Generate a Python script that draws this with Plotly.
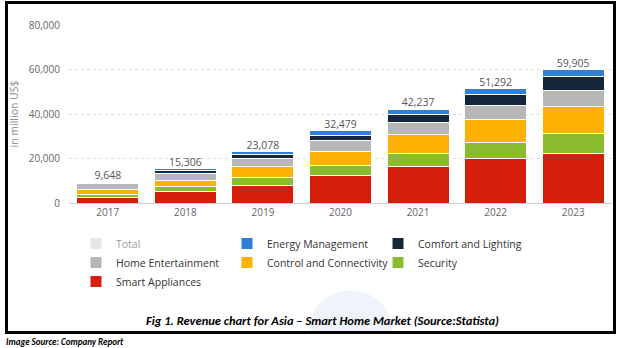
import plotly.graph_objects as go

years = ["2017", "2018", "2019", "2020", "2021", "2022", "2023"]
totals = [9648, 15306, 23078, 32479, 42237, 51292, 59905]

smart_appliances = [2600, 5000, 7900, 12300, 16600, 20000, 22300]
security = [1300, 2300, 3400, 4600, 5500, 7000, 8800]
control_connectivity = [2200, 3000, 5000, 6400, 8700, 10500, 12200]
home_entertainment = [2700, 3000, 3600, 4800, 5200, 6100, 7400]
comfort_lighting = [500, 1100, 1700, 2400, 4000, 5200, 6300]
energy_management = [348, 906, 1478, 1979, 2237, 2492, 2905]

y_ticks = [0, 20000, 40000, 60000, 80000]

W, H = 622, 348
L, R, T, B = 69, 10, 25, 145
PW, PH = W - L - R, H - T - B


def xp(px):
    return (px - L) / PW


def yp(py):
    return (H - B - py) / PH


series = [
    ("Smart Appliances", smart_appliances, "#d51e09", 7),
    ("Security", security, "#8bbb2e", 6),
    ("Control and Connectivity", control_connectivity, "#fdb100", 5),
    ("Home Entertainment", home_entertainment, "#b7b7b7", 4),
    ("Comfort and Lighting", comfort_lighting, "#15263b", 3),
    ("Energy Management", energy_management, "#2f7fd9", 2),
]

fig = go.Figure()
for name, vals, color, rank in series:
    fig.add_trace(go.Bar(
        x=years, y=vals, name=name, legendrank=rank,
        marker=dict(color=color, line=dict(color="white", width=1)),
    ))

fig.add_trace(go.Bar(
    x=years, y=totals, name="Total", legendrank=1, visible="legendonly",
    marker=dict(color="#cccccc", line=dict(color="white", width=1)),
))

fig.add_trace(go.Scatter(
    x=years, y=totals, mode="text",
    text=[f"{v:,}" for v in totals], textposition="top center",
    textfont=dict(family="Open Sans", size=10.5, color="#555555"),
    showlegend=False, cliponaxis=False, hoverinfo="skip",
))

fig.update_layout(
    width=W, height=H,
    margin=dict(l=L, r=R, t=T, b=B, autoexpand=False),
    paper_bgcolor="white", plot_bgcolor="white",
    barmode="stack", bargap=0.2,
    font=dict(family="Open Sans", size=10, color="#666666"),
    xaxis=dict(
        showgrid=False, showline=True, linecolor="#cccccc", linewidth=1,
        ticks="", tickfont=dict(size=10, color="#666666"),
    ),
    yaxis=dict(
        range=[0, 80000], tickvals=y_ticks, tickformat=",",
        showgrid=True, gridcolor="#dddddd", griddash="dot", gridwidth=1,
        zeroline=False, ticks="", ticklabelstandoff=8,
        tickfont=dict(size=10, color="#666666"),
        title=dict(text="in million US$", font=dict(size=10.5, color="#888888"), standoff=8),
    ),
    legend=dict(
        orientation="h", x=xp(76), xanchor="left", y=yp(229), yanchor="top",
        entrywidth=106, entrywidthmode="pixels", traceorder="normal",
        font=dict(family="Open Sans", size=10.5, color="#333333"),
        itemwidth=30, bgcolor="rgba(0,0,0,0)",
    ),
)

# faint decorative blob behind the caption
x0, x1, yb, yc = xp(309), xp(392), yp(332), yp(277)
fig.add_shape(type="path", xref="paper", yref="paper", layer="below",
              path=f"M {x0},{yb} C {x0},{yc} {x1},{yc} {x1},{yb} Z",
              fillcolor="#eff3fa", line=dict(width=0))

# frame around the chart
fig.add_shape(type="rect", xref="paper", yref="paper",
              x0=xp(6.5), x1=xp(614.5), y0=yp(332.5), y1=yp(2.5),
              line=dict(color="black", width=3), fillcolor="rgba(0,0,0,0)")

fig.add_annotation(
    text="<b><i>Fig 1. Revenue chart for Asia – Smart Home Market (Source:Statista)</i></b>",
    xref="paper", yref="paper", x=xp(322), y=yp(320), xanchor="center", yanchor="middle",
    showarrow=False, font=dict(family="Carlito, Liberation Sans", size=12.5, color="black"),
)
fig.add_annotation(
    text="<b><i>Image Source: Company Report</i></b>",
    xref="paper", yref="paper", x=xp(4), y=yp(341), xanchor="left", yanchor="middle",
    showarrow=False, font=dict(family="Carlito, Liberation Sans", size=9, color="black"),
)

fig.write_html("out.html")
